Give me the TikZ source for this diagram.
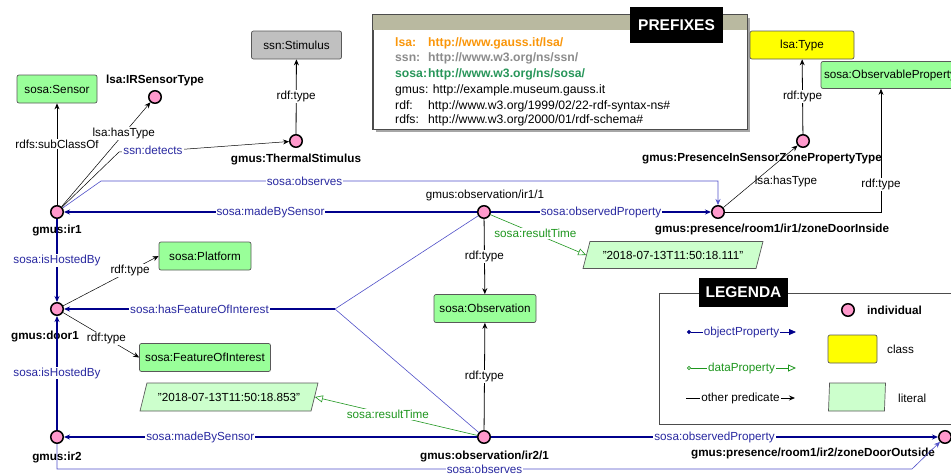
\documentclass[tikz,border=0pt]{standalone}
\usepackage{fontspec}
\setmainfont{Liberation Sans}
\usetikzlibrary{arrows.meta,shapes.geometric,shadows}

\definecolor{indpink}{RGB}{255,153,204}
\definecolor{clsgreen}{RGB}{153,255,153}
\definecolor{clsgray}{RGB}{192,192,192}
\definecolor{clsyellow}{RGB}{255,255,0}
\definecolor{litgreen}{RGB}{204,255,204}
\definecolor{objblue}{RGB}{0,0,140}
\definecolor{objlight}{RGB}{80,80,200}
\definecolor{objtext}{RGB}{40,40,160}
\definecolor{datgreen}{RGB}{30,150,30}
\definecolor{pfxorange}{RGB}{250,150,10}
\definecolor{pfxgray}{RGB}{140,140,140}
\definecolor{pfxgreen}{RGB}{40,150,90}
\definecolor{headtan}{RGB}{185,185,160}

\newcommand{\pfxtag}[1]{\makebox[33pt][l]{#1}}

\tikzset{
  ind/.style={circle, draw=black, line width=1.5pt, fill=indpink, minimum size=12.5pt, inner sep=0pt},
  indname/.style={font=\fontsize{11.7}{14}\selectfont\bfseries},
  cls/.style={rectangle, rounded corners=2pt, draw=black!65, line width=0.7pt, fill=clsgreen, minimum height=28pt, inner xsep=3pt},
  lit/.style={trapezium, trapezium left angle=65, trapezium right angle=115, trapezium stretches body, draw=black!65, line width=0.7pt, fill=litgreen, minimum height=27pt},
  elab/.style={fill=white, inner sep=1pt},
  olab/.style={elab, text=objtext},
  dlab/.style={elab, text=datgreen},
  objp/.style={objblue, line width=1.1pt, -{Stealth[length=6pt,width=5pt]}},
  objthin/.style={objlight, line width=0.6pt, -{Stealth[length=6pt,width=5pt]}},
  datap/.style={datgreen, line width=0.6pt, -{Triangle[open,length=8pt,width=7pt]}},
  othp/.style={black, line width=0.8pt, -{Stealth[length=6pt,width=5pt]}},
  pfx/.style={anchor=west, inner sep=0pt, font=\fontsize{12.2}{14}\selectfont},
  tagbox/.style={fill=black, text=white, font=\fontsize{15.5}{17}\selectfont\bfseries, inner xsep=4pt}
}

\begin{document}
\begin{tikzpicture}[x=1pt, y=-1pt, font=\fontsize{11.7}{14}\selectfont]
  \useasboundingbox (0,0) rectangle (951,475);

  \node[draw=black!70, line width=0.7pt, fill=white, minimum width=374pt, minimum height=114pt,
    drop shadow={shadow xshift=3pt, shadow yshift=-3pt, fill=black!35, opacity=1}] (pfxbox) at (560,72) {};
  \fill[headtan] (pfxbox.north west) rectangle ([yshift=-15pt]pfxbox.north east);
  \draw[black!70, line width=0.7pt] (pfxbox.north west) rectangle (pfxbox.south east);
  \node[tagbox, minimum width=93pt, minimum height=36pt] (pfxtitle) at (676.5,25) {PREFIXES};
  \node[pfx, text=pfxorange] (pfx-lsa) at (395,43) {\bfseries\pfxtag{lsa:}http://www.gauss.it/lsa/};
  \node[pfx, text=pfxgray] (pfx-ssn) at (395,58) {\bfseries\pfxtag{ssn:}http://www.w3.org/ns/ssn/};
  \node[pfx, text=pfxgreen] (pfx-sosa) at (395,74) {\bfseries\pfxtag{sosa:}http://www.w3.org/ns/sosa/};
  \node[pfx] (pfx-gmus) at (395,90) {gmus: http://example.museum.gauss.it};
  \node[pfx] (pfx-rdf) at (395,106) {\pfxtag{rdf:}http://www.w3.org/1999/02/22-rdf-syntax-ns\#};
  \node[pfx] (pfx-rdfs) at (395,120) {\pfxtag{rdfs:}http://www.w3.org/2000/01/rdf-schema\#};

  \node[draw=black!70, line width=0.7pt, minimum width=300pt, minimum height=131pt] (legbox) at (809,358.5) {};
  \node[tagbox, minimum width=89pt, minimum height=29pt] (legtitle) at (743.5,292.5) {LEGENDA};
  \node[ind] (leg-ind) at (848,310) {};
  \node[indname, anchor=west, inner sep=0pt] (leg-ind-t) at (867,310) {individual};
  \node[cls, fill=clsyellow, minimum width=49pt] (leg-cls) at (852.5,349) {};
  \node[anchor=west, inner sep=0pt] (leg-cls-t) at (887,349) {class};
  \node[lit, trapezium left angle=81, trapezium right angle=99, minimum width=57pt, minimum height=28pt] (leg-lit) at (857,397) {};
  \node[anchor=west, inner sep=0pt] (leg-lit-t) at (898,398) {literal};
  \coordinate (lgoA) at (687,332);
  \coordinate (lgoB) at (796,332);
  \coordinate (lgdA) at (687,368);
  \coordinate (lgdB) at (796,368);
  \coordinate (lgpA) at (686,398);
  \coordinate (lgpB) at (795,398);
  \draw[objp, line width=0.8pt, {Circle[length=4pt]}-{Triangle[length=7pt,width=6pt]}] (lgoA) -- node[olab]{objectProperty} (lgoB);
  \draw[datap, line width=0.8pt, {Circle[open,length=4pt]}-{Triangle[open,length=8pt,width=7pt]}] (lgdA) -- node[dlab]{dataProperty} (lgdB);
  \draw[othp] (lgpA) -- node[elab]{other predicate} (lgpB);

  \node[ind] (ir1) at (57,212) {};
  \node[ind] (door1) at (57,309) {};
  \node[ind] (ir2) at (57,437) {};
  \node[ind] (irtype) at (155,97) {};
  \node[ind] (thermal) at (296,141) {};
  \node[ind] (obs1) at (484,212) {};
  \node[ind] (obs2) at (484,437) {};
  \node[ind] (pres1) at (718,212) {};
  \node[ind] (prestype) at (803,141) {};
  \node[ind] (pres2) at (945,437) {};

  \node[indname] (ir1-n) at (57,230) {gmus:ir1};
  \node[indname] (door1-n) at (45,336) {gmus:door1};
  \node[indname] (ir2-n) at (57,457) {gmus:ir2};
  \node[indname] (irtype-n) at (155,80) {lsa:IRSensorType};
  \node[indname] (thermal-n) at (296,159) {gmus:ThermalStimulus};
  \node (obs1-n) at (485,195) {gmus:observation/ir1/1};
  \node[indname] (obs2-n) at (484.5,456) {gmus:observation/ir2/1};
  \node[indname] (pres1-n) at (772,229) {gmus:presence/room1/ir1/zoneDoorInside};
  \node[indname] (prestype-n) at (762,159) {gmus:PresenceInSensorZonePropertyType};
  \node[indname] (pres2-n) at (813,453) {gmus:presence/room1/ir2/zoneDoorOutside};

  \node[cls, minimum width=80pt] (sensor) at (57,89) {sosa:Sensor};
  \node[cls, fill=clsgray, minimum width=90pt] (stimulus) at (296.5,45) {ssn:Stimulus};
  \node[cls, fill=clsyellow, minimum width=104pt] (lsatype) at (802,45) {lsa:Type};
  \node[cls, minimum height=27pt] (obsprop) at (890,75) {sosa:ObservableProperty};
  \node[cls, minimum width=92pt] (platform) at (205,256) {sosa:Platform};
  \node[cls, minimum width=131pt] (foi) at (205,357.5) {sosa:FeatureOfInterest};
  \node[cls, minimum width=102pt] (observation) at (485,308.5) {sosa:Observation};
  \node[lit, minimum width=180pt] (t111) at (673,255) {"2018-07-13T11:50:18.111"};
  \node[lit, minimum width=178pt, minimum height=28pt] (t853) at (229,397) {"2018-07-13T11:50:18.853"};

  \coordinate (dtA) at (119,152);
  \coordinate (dtB) at (187,149);
  \coordinate (obsA) at (101,181);
  \coordinate (obsB) at (57,469);
  \coordinate (obsC) at (912,469);
  \coordinate (foiA) at (335,309);

  \draw[othp] (ir1) -- node[elab, pos=0.6]{rdfs:subClassOf} (sensor);
  \draw[othp, line width=0.5pt] (ir1) -- node[elab, pos=0.7]{lsa:hasType} (irtype);
  \draw[othp, line width=0.5pt] (ir1) -- (dtA) -- node[olab]{ssn:detects} (dtB) -- (thermal);
  \draw[othp] (thermal) -- node[elab]{rdf:type} (stimulus);
  \draw[objthin] (ir1) -- (obsA) -| node[olab, pos=0.165]{sosa:observes} (pres1);
  \draw[objp] (obs1) -- node[olab]{sosa:madeBySensor} (ir1);
  \draw[objp] (obs1) -- node[olab]{sosa:observedProperty} (pres1);
  \draw[othp, line width=0.5pt] (pres1) -- node[pos=0.42, anchor=west, inner sep=0pt]{lsa:hasType} (prestype);
  \draw[othp] (prestype) -- node[elab]{rdf:type} (lsatype);
  \draw[othp, line width=0.5pt] (pres1) -| node[elab, pos=0.61]{rdf:type} ([xshift=-9pt]obsprop.south);
  \draw[datap] (obs1) -- node[dlab, pos=0.47]{sosa:resultTime} (t111.west);
  \draw[othp] (obs1) -- node[elab]{rdf:type} (observation);
  \draw[othp] (obs2) -- node[elab]{rdf:type} (observation);
  \draw[objp] (ir1) -- node[olab]{sosa:isHostedBy} (door1);
  \draw[objp] (ir2) -- node[olab]{sosa:isHostedBy} (door1);
  \draw[othp, line width=0.5pt] (door1) -- node[elab, pos=0.7]{rdf:type} (platform.west);
  \draw[othp, line width=0.5pt] (door1) -- node[elab, pos=0.57]{rdf:type} (foi.west);
  \draw[objlight, line width=0.6pt] (obs1) -- (foiA) -- (obs2);
  \draw[objp] (foiA) -- node[olab]{sosa:hasFeatureOfInterest} (door1);
  \draw[objp] (obs2) -- node[olab, pos=0.67]{sosa:madeBySensor} (ir2);
  \draw[datap] (obs2) -- node[dlab, pos=0.55]{sosa:resultTime} (t853.east);
  \draw[objp] (obs2) -- node[olab]{sosa:observedProperty} (pres2);
  \draw[objthin] (ir2) -- (obsB) -- node[olab]{sosa:observes} (obsC) -- (pres2);
\end{tikzpicture}
\end{document}
